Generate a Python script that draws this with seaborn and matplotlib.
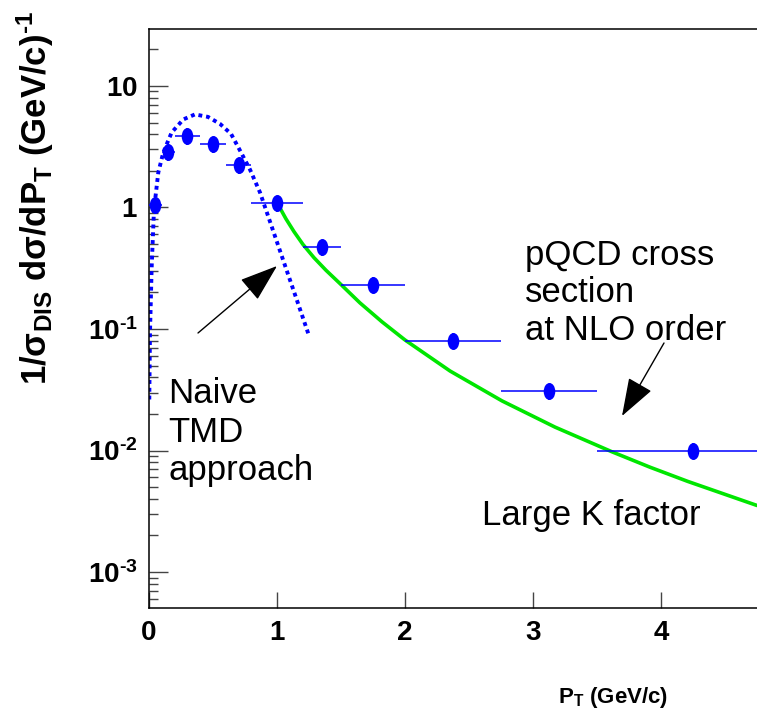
import numpy as np
import pandas as pd
import matplotlib
matplotlib.use("Agg")
import matplotlib.pyplot as plt
import seaborn as sns
from matplotlib import font_manager
from matplotlib.path import Path
from matplotlib.transforms import Affine2D
from matplotlib.ticker import LogLocator, NullFormatter, FixedLocator

# ---------------- data ----------------
pt_center = [0.05, 0.15, 0.3, 0.5, 0.7, 1.0, 1.35, 1.75, 2.375, 3.125, 4.25]
pt_halfwidth = [0.05, 0.05, 0.1, 0.1, 0.1, 0.2, 0.15, 0.25, 0.375, 0.375, 0.75]
xsec = [1.05, 2.84, 3.88, 3.30, 2.22, 1.08, 0.47, 0.232, 0.080, 0.0306, 0.0100]
xsec_err = [0.16, 0.45, 0.6, 0.5, 0.33, 0.16, 0.07, 0.035, 0.012, 0.0046, 0.0015]

tmd_x = [0.0023, 0.0078, 0.0211, 0.039, 0.0727, 0.1117, 0.177, 0.268, 0.359, 0.461,
         0.555, 0.641, 0.711, 0.789, 0.867, 0.961, 1.0625, 1.156, 1.252]
tmd_y = [0.0263, 0.0936, 0.327, 0.963, 1.94, 2.84, 4.14, 5.30, 5.83, 5.56,
         4.87, 4.03, 2.94, 2.05, 1.33, 0.684, 0.333, 0.172, 0.0868]

nlo_x = [1.008, 1.070, 1.133, 1.203, 1.289, 1.383, 1.492, 1.648, 1.820, 2.0, 2.352,
         2.758, 3.172, 3.617, 3.914, 4.211, 4.75]
nlo_y = [1.058, 0.806, 0.632, 0.496, 0.386, 0.304, 0.2364, 0.164, 0.1146, 0.0812,
         0.0451, 0.0256, 0.01558, 0.00976, 0.00729, 0.00556, 0.00353]

y_major = [1e-3, 1e-2, 1e-1, 1, 10]
y_major_labels = [r"$10^{\text{-3}}$", r"$10^{\text{-2}}$", r"$10^{\text{-1}}$", r"$1$", r"$10$"]
x_major = [0, 1, 2, 3, 4]
x_major_labels = ["0", "1", "2", "3", "4"]

# ---------------- style ----------------
sns.set_style("white")
names = {f.name for f in font_manager.fontManager.ttflist}
narrow = "Liberation Sans Narrow" if "Liberation Sans Narrow" in names else "Liberation Sans"
plt.rcParams["font.family"] = ["Liberation Sans", "DejaVu Sans"]
plt.rcParams["mathtext.fontset"] = "custom"
plt.rcParams["mathtext.rm"] = f"{narrow}:bold"
plt.rcParams["mathtext.it"] = f"{narrow}:bold"
plt.rcParams["mathtext.bf"] = f"{narrow}:bold"
plt.rcParams["text.color"] = "black"
plt.rcParams["xtick.color"] = "black"
plt.rcParams["ytick.color"] = "black"

W, H = 757, 716
fig = plt.figure(figsize=(W / 100, H / 100), dpi=100)
ax = fig.add_axes([149 / W, (H - 608) / H, (W - 149) / W, (608 - 29) / H])

blue = "#0000ff"
green = "#00e600"

# data points with bin-width error bars
ax.errorbar(pt_center, xsec, xerr=pt_halfwidth, yerr=xsec_err, fmt="none",
            ecolor=blue, elinewidth=1.1, capsize=0, zorder=3)
ellipse = Path.unit_circle().transformed(Affine2D().scale(0.68, 1.0))
df_pts = pd.DataFrame({"pt": pt_center, "xs": xsec})
sns.scatterplot(data=df_pts, x="pt", y="xs", marker=ellipse, s=150, color=blue,
                edgecolor=blue, linewidth=0, ax=ax, zorder=4)

# curves
df_tmd = pd.DataFrame({"pt": tmd_x, "xs": tmd_y})
sns.lineplot(data=df_tmd, x="pt", y="xs", sort=False, estimator=None, color=blue,
             linewidth=2.8, linestyle=(0, (1.0, 1.0)), dash_capstyle="butt", ax=ax, zorder=2)
df_nlo = pd.DataFrame({"pt": nlo_x, "xs": nlo_y})
sns.lineplot(data=df_nlo, x="pt", y="xs", sort=False, estimator=None, color=green,
             linewidth=2.6, ax=ax, zorder=2)

# axes
ax.set_yscale("log")
ax.set_xlim(0, 4.75)
ax.set_ylim(5.06e-4, 29.4)
ax.yaxis.set_major_locator(FixedLocator(y_major))
ax.set_yticklabels(y_major_labels)
ax.yaxis.set_minor_locator(LogLocator(base=10, subs=np.arange(2, 10)))
ax.yaxis.set_minor_formatter(NullFormatter())
ax.set_xticks(x_major)
ax.set_xticklabels(x_major_labels, fontfamily=narrow, fontweight="bold")
ax.set_xlabel("")
ax.set_ylabel("")

ax.tick_params(axis="y", which="major", direction="in", length=13.5, width=1.0,
               color="#444444", labelcolor="black", labelsize=20, pad=8, left=True)
ax.tick_params(axis="y", which="minor", direction="in", length=6.5, width=1.0,
               color="#444444", left=True)
ax.tick_params(axis="x", which="major", direction="in", length=11.5, width=1.0,
               color="#444444", labelcolor="black", labelsize=20, pad=9, bottom=True)
for s in ["left", "bottom", "top"]:
    ax.spines[s].set_visible(True)
    ax.spines[s].set_color("black")
    ax.spines[s].set_linewidth(1.1)
ax.spines["right"].set_visible(False)

# axis titles
fig.text(35 / W, 1 - 198 / H,
         r"1/σ$_{\rm DIS}$ dσ/dP$_{\rm T}$ (GeV/c)$^{\text{-1}}$",
         rotation=90, ha="center", va="center", fontsize=25, fontweight="bold",
         fontfamily=["Liberation Sans", "DejaVu Sans"])
fig.text(668 / W, 1 - 703 / H, r"P$_{\rm T}$ (GeV/c)", ha="right", va="baseline",
         fontsize=16, fontweight="bold", fontfamily=[narrow, "DejaVu Sans"])

# annotations
def put(text, x, ybase):
    fig.text(x / W, 1 - ybase / H, text, ha="left", va="baseline", fontsize=25,
             color="black")

put("pQCD cross", 525, 265)
put("section", 525, 302)
put("at NLO order", 525, 340)
put("Naive", 168, 403)
put("TMD", 168, 442)
put("approach", 168, 480)
put("Large K factor", 482, 525)

arrow_style = "-|>,head_length=1.2,head_width=0.42"
ax.annotate("", xy=(277, H - 266), xycoords="figure pixels",
            xytext=(198, H - 333), textcoords="figure pixels",
            arrowprops=dict(arrowstyle=arrow_style, mutation_scale=20, lw=1.0,
                            color="black", shrinkA=0, shrinkB=0))
ax.annotate("", xy=(622, H - 416), xycoords="figure pixels",
            xytext=(664, H - 343), textcoords="figure pixels",
            arrowprops=dict(arrowstyle=arrow_style, mutation_scale=20, lw=1.0,
                            color="black", shrinkA=0, shrinkB=0))

fig.savefig("out.png", dpi=100)
